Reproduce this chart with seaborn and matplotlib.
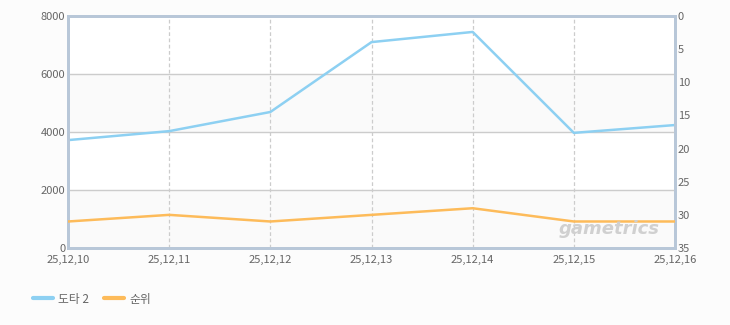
import matplotlib
matplotlib.use("Agg")
import matplotlib.pyplot as plt
import seaborn as sns
import pandas as pd
from matplotlib.lines import Line2D

dates = ["25,12,10", "25,12,11", "25,12,12", "25,12,13", "25,12,14", "25,12,15", "25,12,16"]
dota2 = [3720, 4030, 4690, 7100, 7450, 3970, 4240]
rank = [31, 30, 31, 30, 29, 31, 31]
series_names = ["도타 2", "순위"]
left_ticks = [0, 2000, 4000, 6000, 8000]
right_ticks = [0, 5, 10, 15, 20, 25, 30, 35]

sns.set_theme(style="white")
plt.rcParams["font.family"] = ["Noto Sans CJK KR", "DejaVu Sans"]

blue = "#8dd0f2"
orange = "#fdbb5a"
spine_c = "#b8c7d8"
text_c = "#666666"

df = pd.DataFrame({"date": dates, "dota2": dota2, "rank": rank})

fig = plt.figure(figsize=(7.3, 3.25), dpi=100, facecolor="#fcfcfc")
ax = fig.add_axes([0.0932, 0.2369, 0.8315, 0.7139])
ax.set_facecolor("white")
ax.axhspan(0, 2000, color="#fafafa", zorder=0)
ax.axhspan(4000, 6000, color="#fafafa", zorder=0)

sns.lineplot(data=df, x="date", y="dota2", ax=ax, color=blue, linewidth=1.8, zorder=3)
ax.set_xlim(0, len(dates) - 1)
ax.set_ylim(0, 8000)
ax.set_yticks(left_ticks)
ax.set_xticks(range(len(dates)))
ax.set_xticklabels(dates)
ax.set_xlabel("")
ax.set_ylabel("")
for y in [2000, 4000, 6000]:
    ax.axhline(y, color="#cccccc", linewidth=1, zorder=1)
for i in range(1, len(dates) - 1):
    ax.axvline(i, color="#cccccc", linewidth=0.9, linestyle=(0, (3, 2)), zorder=1)

ax2 = ax.twinx()
sns.lineplot(data=df, x="date", y="rank", ax=ax2, color=orange, linewidth=1.8, zorder=3)
ax2.set_ylim(35, 0)
ax2.set_yticks(right_ticks)
ax2.set_ylabel("")
ax2.set_xlim(0, len(dates) - 1)

for a in (ax, ax2):
    for s in a.spines.values():
        s.set_color(spine_c)
        s.set_linewidth(2)
    a.tick_params(axis="both", labelsize=8, colors=text_c, length=0, pad=2)
ax.tick_params(axis="x", pad=5)

fig.text(0.835, 0.295, "gametrics", fontsize=13, fontweight="bold", style="italic",
         color="#d0d0d0", ha="center", va="center", family="DejaVu Sans", zorder=5)

handles = [Line2D([0], [0], color=blue, linewidth=3),
           Line2D([0], [0], color=orange, linewidth=3)]
leg = fig.legend(handles, series_names, loc="center left", bbox_to_anchor=(0.03, 0.08),
                 ncol=2, frameon=False, fontsize=8.5, handlelength=1.7, handletextpad=0.5,
                 columnspacing=1.2)
for t in leg.get_texts():
    t.set_color(text_c)

fig.savefig("out.png", dpi=100, facecolor=fig.get_facecolor())
